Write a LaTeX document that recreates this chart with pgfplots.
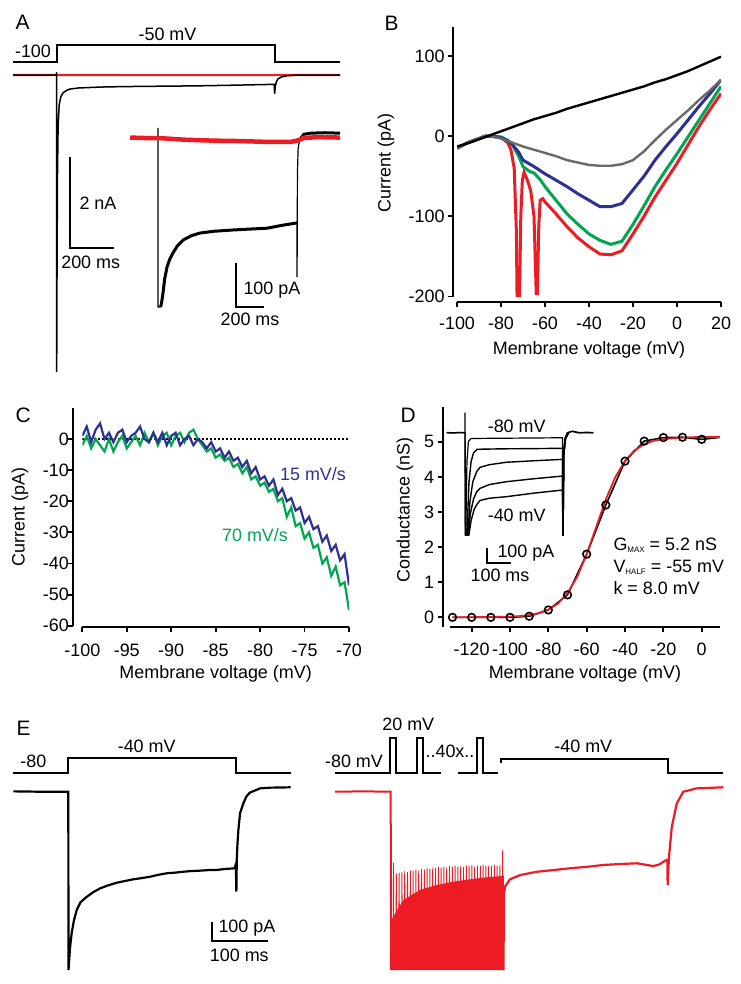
\documentclass[border=0pt]{standalone}
\usepackage{fontspec}
\setmainfont{Liberation Sans}
\usepackage{pgfplots}
\pgfplotsset{compat=1.18}
\definecolor{tred}{RGB}{237,28,36}
\definecolor{tgreen}{RGB}{0,166,81}
\definecolor{tblue}{RGB}{46,49,146}
\definecolor{tgray}{RGB}{105,105,105}
\newcommand{\fs}{\fontsize{18}{21}\selectfont}
\newcommand{\fl}{\fontsize{21}{24}\selectfont}
\pgfplotsset{
  trace/.style={scale only axis, hide axis, clip=false, anchor=south west},
  ephys/.style={scale only axis, anchor=south west, axis lines=left,
    axis line style={-, line width=1.8bp},
    every tick/.style={black, line width=1.8bp},
    tick align=outside, major tick length=5bp,
    tick label style={font=\fs},
    label style={font=\fs},
    /pgf/number format/assume math mode=true},
}
\begin{document}
\begin{tikzpicture}[x=1bp,y=-1bp]
\useasboundingbox (0,0) rectangle (741,984);

% ---------------- A ----------------
\begin{axis}[trace, at={(13bp,-62bp)}, width=327bp, height=17bp,
  xmin=-200, xmax=1300, ymin=-100, ymax=-50]
\addplot[black, line width=2bp] coordinates {(-200,-100)(0,-100)(0,-50)(1000,-50)(1000,-100)(1300,-100)};
\end{axis}

\begin{axis}[trace, at={(13bp,-375.3bp)}, width=327bp, height=309.4bp,
  xmin=-200, xmax=1300, ymin=-6600, ymax=200]
\addplot[tred, line width=2.2bp] coordinates {(-200,0)(300,-2)(700,-3)(1000,-2)(1300,0)};
\addplot[black, line width=1.5bp] coordinates {(-200,0)(-1,0)(0,60)(0.4,-6530)(2,-4200)(4,-2200)(7,-1100)(12,-650)(20,-470)(30,-390)(45,-340)(60,-310)(100,-285)(150,-275)(200,-265)(300,-255)(400,-250)(500,-245)(650,-238)(800,-225)(900,-215)(998,-205)(1000,-420)(1003,-260)(1008,-150)(1015,-90)(1030,-45)(1060,-15)(1100,-3)(1300,0)};
% scale bar 2 nA / 200 ms
\addplot[black, line width=2bp] coordinates {(61.5,-1802)(61.5,-3802)(261.5,-3802)};
\end{axis}

\begin{axis}[trace, at={(130.2bp,-314bp)}, width=209.9bp, height=198bp,
  xmin=-200, xmax=1310, ymin=-400, ymax=50]
\addplot[black, line width=1.2bp] coordinates {(0,23)(0.5,-384)(18,-384)};
\addplot[black, line width=3bp] coordinates {(18,-384)(22,-380)(28,-370)(36,-352)(48,-320)(65,-293)(85,-275)(108,-261)(140,-245)(180,-232)(240,-222)(302,-216)(400,-212)(540,-209)(660,-207)(784,-205)(900,-198)(1000,-193)};
\addplot[black, line width=1.2bp] coordinates {(1000,-193)(1000.5,-316)(1003,-80)(1008,-25)(1020,0)(1040,8)};
\addplot[black, line width=3bp] coordinates {(1040,8)(1100,11)(1200,12)(1310,11)};
\addplot[tred, line width=4.5bp] coordinates {(-200,1)(-100,0)(0,0)(100,-2)(200,-4)(400,-6)(600,-7)(800,-9)(950,-9)(1000,-6)(1050,0)(1150,2)(1310,1)};
% scale bar 100 pA / 200 ms
\addplot[black, line width=2bp] coordinates {(561,-284)(561,-384)(761,-384)};
\end{axis}

% ---------------- B ----------------
\begin{axis}[ephys, at={(457bp,-296.5bp)}, width=264bp, height=269.5bp,
  xmin=-100, xmax=20, ymin=-200, ymax=136,
  axis x line shift=5.5bp, axis y line shift=4bp,
  xtick={-100,-80,...,20}, ytick={-200,-100,0,100},
  xticklabel style={yshift=-6bp},
  xlabel={Membrane voltage (mV)}, ylabel={Current (pA)},
  xlabel style={at={(axis description cs:0.5,-0.1985)}, anchor=center},
  ylabel style={at={(axis description cs:-0.269,0.495)}, anchor=center}]
\addplot[tred, line width=3bp] coordinates {(-100,-15)(-95,-8)(-90,-3)(-87,0)(-84,0)(-80,-2)(-77,-8)(-75.5,-17)(-74,-40)(-73,-120)(-72.5,-260)(-72,-260)(-71.6,-200)(-71,-100)(-70.3,-55)(-69.5,-45)(-68,-55)(-66.5,-68)(-65,-100)(-64,-196)(-63.5,-196)(-62.8,-110)(-62.2,-80)(-61,-78)(-60,-82)(-55,-97)(-50,-113)(-45,-127)(-40,-138)(-35,-147)(-30,-148)(-25,-143)(-20,-122)(-15,-100)(-10,-76)(-5,-55)(0,-34)(5,-11)(10,12)(15,33)(20,53)};
\addplot[tgreen, line width=3bp] coordinates {(-100,-15)(-95,-8)(-90,-3)(-87,0)(-85,0)(-80,-1)(-77,-5)(-75,-10)(-72,-25)(-70,-38)(-67,-44)(-65,-46)(-62,-55)(-60,-63)(-55,-80)(-50,-97)(-45,-110)(-40,-122)(-35,-130)(-30,-135)(-25,-131)(-20,-110)(-15,-87)(-10,-63)(-5,-42)(0,-22)(5,-1)(10,20)(15,41)(20,62)};
\addplot[tblue, line width=3bp] coordinates {(-100,-15)(-95,-8)(-90,-3)(-87,0)(-85,0)(-80,-2)(-77,-6)(-75,-10)(-72,-20)(-70,-30)(-65,-38)(-60,-47)(-55,-55)(-50,-63)(-45,-72)(-40,-80)(-35,-88)(-30,-88)(-25,-84)(-20,-67)(-15,-50)(-10,-30)(-5,-13)(0,3)(5,20)(10,37)(15,53)(20,70)};
\addplot[tgray, line width=2.4bp] coordinates {(-100,-15)(-95,-8)(-90,-3)(-87,0)(-85,0)(-80,-3)(-75,-8)(-70,-13)(-65,-17)(-60,-21)(-55,-25)(-50,-30)(-45,-33)(-40,-36)(-35,-37)(-30,-37)(-25,-35)(-20,-30)(-15,-19)(-10,-5)(-5,8)(0,20)(5,32)(10,45)(15,57)(20,70)};
\addplot[black, line width=2.4bp] coordinates {(-100,-13)(-95,-9)(-90,-4)(-85,1)(-80,6)(-75,11)(-70,16)(-65,21)(-60,25)(-55,29)(-50,34)(-45,38)(-40,42)(-35,46)(-30,50)(-25,54)(-20,58)(-15,62)(-10,67)(-5,71)(0,76)(5,81)(10,87)(15,93)(20,99)};
\end{axis}

% ---------------- C ----------------
\begin{axis}[ephys, at={(82.3bp,-625.7bp)}, width=266.7bp, height=217.8bp,
  xmin=-100, xmax=-70, ymin=-60, ymax=10,
  axis x line shift=1.6bp, axis y line shift=9bp,
  xtick={-100,-95,...,-70}, ytick={-60,-50,...,0},
  xticklabel style={yshift=-8bp}, yticklabel style={xshift=4bp},
  xlabel={Membrane voltage (mV)}, ylabel={Current (pA)},
  xlabel style={at={(axis description cs:0.5,-0.2218)}, anchor=center},
  ylabel style={at={(axis description cs:-0.2336,0.5)}, anchor=center}]
\addplot[black, line width=1.6bp, dash pattern=on 1.5bp off 2.5bp] coordinates {(-100,0)(-70,0)};
\addplot[tgreen, line width=2.2bp] coordinates {(-100,-2)(-99.5,1)(-99,-3)(-98.5,0)(-98,-2)(-97.5,-4)(-97,0)(-96.5,-4)(-96,-1)(-95.5,1)(-95,-3)(-94.5,-1)(-94,1)(-93.5,-2)(-93,2)(-92.5,-1)(-92,2)(-91.5,-2)(-91,1)(-90.5,2)(-90,-2)(-89.5,1)(-89,2)(-88.5,-1)(-88,2)(-87.5,3)(-87,0)(-86.5,-2)(-86,-4)(-85.5,-3)(-85,-6)(-84.5,-5)(-84,-7)(-83.5,-6)(-83,-9)(-82.5,-8)(-82,-11)(-81.5,-9)(-81,-13)(-80.5,-12)(-80,-15)(-79.5,-14)(-79,-17)(-78.5,-16)(-78,-20)(-77.5,-19)(-77,-25)(-76.5,-22)(-76,-28)(-75.5,-27)(-75,-32)(-74.5,-30)(-74,-35)(-73.5,-34)(-73,-40)(-72.5,-38)(-72,-44)(-71.5,-41)(-71,-47)(-70.5,-46)(-70,-55)};
\addplot[tblue, line width=2.2bp] coordinates {(-100,1)(-99.5,4)(-99,-1)(-98.5,3)(-98,5)(-97.5,0)(-97,2)(-96.5,-1)(-96,2)(-95.5,3)(-95,-1)(-94.5,1)(-94,2)(-93.5,4)(-93,0)(-92.5,-1)(-92,2)(-91.5,-1)(-91,2)(-90.5,-2)(-90,1)(-89.5,2)(-89,-2)(-88.5,0)(-88,1)(-87.5,-2)(-87,0)(-86.5,-1)(-86,-3)(-85.5,-1)(-85,-4)(-84.5,-3)(-84,-6)(-83.5,-4)(-83,-7)(-82.5,-6)(-82,-9)(-81.5,-7)(-81,-11)(-80.5,-9)(-80,-13)(-79.5,-12)(-79,-15)(-78.5,-13)(-78,-18)(-77.5,-16)(-77,-20)(-76.5,-19)(-76,-23)(-75.5,-22)(-75,-27)(-74.5,-25)(-74,-29)(-73.5,-28)(-73,-33)(-72.5,-31)(-72,-36)(-71.5,-34)(-71,-39)(-70.5,-37)(-70,-47)};
\end{axis}

% ---------------- D ----------------
\begin{axis}[ephys, at={(450bp,-626.8bp)}, width=269.9bp, height=220.1bp,
  xmin=-131.3, xmax=9.5, ymin=-0.27, ymax=6,
  axis y line shift=7.3bp,
  xtick={-120,-100,...,0}, ytick={0,1,...,5},
  xticklabel style={yshift=-8bp},
  xlabel={Membrane voltage (mV)}, ylabel={Conductance (nS)},
  xlabel style={at={(axis description cs:0.5,-0.2144)}, anchor=center},
  ylabel style={at={(axis description cs:-0.1667,0.5307)}, anchor=center}]
\addplot[black, line width=1.6bp] coordinates {(-130,0)(-120,0)(-110,0)(-100,0)(-90,0.03)(-80,0.21)(-70,0.64)(-60,1.8)(-50,3.2)(-40,4.45)(-30,5.02)(-20,5.12)(-10,5.13)(0,5.07)(10,5.13)};
\addplot[tred, line width=1.8bp] coordinates {(-130,0)(-110,0.01)(-100,0.02)(-95,0.035)(-90,0.065)(-85,0.12)(-80,0.22)(-75,0.39)(-70,0.69)(-65,1.15)(-60,1.8)(-55,2.58)(-50,3.36)(-45,4.0)(-40,4.46)(-35,4.76)(-30,4.93)(-25,5.03)(-20,5.08)(-10,5.12)(0,5.14)(10,5.14)};
\addplot[black, only marks, mark=o, mark size=3.8bp, mark options={line width=1.6bp}] coordinates {(-130,0)(-120,0)(-110,0)(-100,0)(-90,0.03)(-80,0.21)(-70,0.64)(-60,1.8)(-50,3.2)(-40,4.45)(-30,5.02)(-20,5.12)(-10,5.13)(0,5.07)(10,5.13)};
\end{axis}

\begin{axis}[trace, at={(446.7bp,-536.4bp)}, width=146.6bp, height=125.3bp,
  xmin=-75, xmax=526, ymin=-720, ymax=150]
\addplot[black, line width=1.2bp] coordinates {(-75,0)(0,0)(0.3,140)(1,-710)(3,-710)(8,-200)(14,-60)(25,-40)(400,-35)(401,-710)(402,-710)(404,-150)(410,-40)(420,0)(440,10)(460,0)(526,0)};
\addplot[black, line width=1.4bp] coordinates {(-75,2)(-50,-2)(-25,2)(0,0)(2,-710)(8,-710)(16,-350)(25,-200)(35,-140)(50,-115)(150,-112)(300,-110)(400,-108)(401,-710)(402,-710)(404,-150)(410,-40)(420,0)(440,10)(470,0)(500,3)(526,0)};
\addplot[black, line width=1.4bp] coordinates {(4,-710)(12,-710)(20,-480)(32,-340)(48,-270)(62,-240)(100,-222)(170,-205)(280,-195)(400,-185)(401,-710)(402,-710)(405,-150)(412,-40)(425,0)};
\addplot[black, line width=1.4bp] coordinates {(5,-710)(14,-710)(22,-560)(35,-460)(48,-410)(62,-386)(100,-360)(170,-340)(280,-320)(400,-301)(401,-710)(402,-710)(405,-150)(412,-40)(425,0)};
\addplot[black, line width=1.4bp] coordinates {(6,-710)(16,-710)(25,-610)(38,-530)(50,-495)(62,-470)(100,-455)(170,-444)(280,-420)(400,-398)(401,-710)(402,-710)(405,-150)(412,-40)(425,0)};
% scale bar 100 pA / 100 ms
\addplot[black, line width=2bp] coordinates {(89,-803)(89,-903)(189,-903)};
\end{axis}

% ---------------- E ----------------
\begin{axis}[trace, at={(13.3bp,-772.7bp)}, width=277.4bp, height=14.4bp,
  xmin=-98.2, xmax=397, ymin=-80, ymax=-40]
\addplot[black, line width=2bp] coordinates {(-98.2,-80)(0,-80)(0,-40)(300,-40)(300,-80)(397,-80)};
\end{axis}

\begin{axis}[trace, at={(13.3bp,-975.7bp)}, width=277.4bp, height=193.2bp,
  xmin=-98.2, xmax=397, ymin=-1000, ymax=50]
\addplot[black, line width=2.2bp] coordinates {(-98.2,2)(-50,0)(0,0)(0.3,-969)(3,-850)(6,-768)(10,-700)(15,-643)(22,-600)(33,-571)(45,-545)(57,-525)(70,-510)(86,-495)(100,-486)(116,-476)(130,-470)(146,-462)(160,-452)(176,-443)(190,-440)(205,-435)(220,-431)(235,-429)(250,-426)(265,-425)(280,-420)(297,-416)(299,-395)(300,-543)(300.7,-371)(302,-280)(303.6,-208)(306.6,-117)(312.5,-63)(318,-25)(324,-5)(332,5)(342,18)(360,22)(397,24)};
% scale bar 100 pA / 100 ms
\addplot[black, line width=2bp] coordinates {(257,-710)(257,-810)(357,-810)};
\end{axis}

\begin{axis}[trace, at={(335bp,-772.7bp)}, width=388.3bp, height=34.4bp,
  xmin=-99.5, xmax=594, ymin=-80, ymax=20]
\addplot[black, line width=2bp] coordinates {(-99.5,-80)(-1.2,-80)(-1.2,20)(9.5,20)(9.5,-80)(47.5,-80)(47.5,20)(58.2,20)(58.2,-80)(89.8,-80)};
\addplot[black, line width=2bp] coordinates {(120.7,-80)(154.6,-80)(154.6,20)(164.3,20)(164.3,-80)(191,-80)};
\addplot[black, line width=2bp] coordinates {(196.4,-53)(196.4,-40)(494.6,-40)(494.6,-80)(594,-80)};
\end{axis}

\begin{axis}[trace, at={(335bp,-975.7bp)}, width=388.3bp, height=193.2bp,
  xmin=-99.5, xmax=594, ymin=-1000, ymax=50]
\addplot[tred, line width=2bp] coordinates {(-99.5,0)(-50,2)(0,0)(0.3,-969)};
\addplot[tred, fill=tred, draw=none] coordinates {(0,-969)(0.5,-700)(8,-661)(22.5,-589)(52,-534)(82,-507)(112,-489)(142,-476)(172,-465)(199,-458)(202,-458)(202,-969)(0,-969)};
\addplot[tred, line width=0.9bp] coordinates {(4.5,-700)(5,-385)(5.5,-700)(9.5,-700)(10,-445)(10.5,-700)(14.5,-700)(15,-440)(15.5,-700)(19.5,-700)(20,-438)(20.5,-700)(24.5,-700)(25,-432)(25.5,-700)(29.5,-700)(30,-436)(30.5,-700)(34.5,-700)(35,-428)(35.5,-700)(39.5,-700)(40,-430)(40.5,-700)(44.5,-700)(45,-424)(45.5,-700)(49.5,-700)(50,-427)(50.5,-700)(54.5,-700)(55,-420)(55.5,-700)(59.5,-700)(60,-423)(60.5,-700)(64.5,-700)(65,-416)(65.5,-700)(69.5,-700)(70,-419)(70.5,-700)(74.5,-700)(75,-412)(75.5,-700)(79.5,-700)(80,-415)(80.5,-700)(84.5,-700)(85,-410)(85.5,-700)(89.5,-700)(90,-413)(90.5,-700)(94.5,-700)(95,-408)(95.5,-700)(99.5,-700)(100,-411)(100.5,-700)(104.5,-700)(105,-405)(105.5,-700)(109.5,-700)(110,-409)(110.5,-700)(114.5,-700)(115,-402)(115.5,-700)(119.5,-700)(120,-407)(120.5,-700)(124.5,-700)(125,-403)(125.5,-700)(129.5,-700)(130,-408)(130.5,-700)(134.5,-700)(135,-401)(135.5,-700)(139.5,-700)(140,-405)(140.5,-700)(144.5,-700)(145,-400)(145.5,-700)(149.5,-700)(150,-406)(150.5,-700)(154.5,-700)(155,-402)(155.5,-700)(159.5,-700)(160,-404)(160.5,-700)(164.5,-700)(165,-399)(165.5,-700)(169.5,-700)(170,-405)(170.5,-700)(174.5,-700)(175,-401)(175.5,-700)(179.5,-700)(180,-403)(180.5,-700)(184.5,-700)(185,-398)(185.5,-700)(189.5,-700)(190,-404)(190.5,-700)(194.5,-700)(195,-400)(195.5,-700)(199.5,-700)(200,-318)(200.5,-700)(201.5,-969)};
\addplot[tred, line width=2.2bp] coordinates {(201.5,-969)(202,-560)(204,-516)(213,-476)(231,-453)(261,-435)(290,-426)(320,-416)(351,-408)(380,-398)(409,-393)(440,-389)(469,-404)(480,-395)(490,-375)(494,-370)(494.6,-507)(497,-353)(502,-190)(511,-63)(522.5,0)(546,18)(594,24)};
\end{axis}

% ---------------- text ----------------
\node[font=\fl, anchor=west] at (12,22) {A};
\node[font=\fs] at (33,51) {-100};
\node[font=\fs] at (167.5,34) {-50 mV};
\node[font=\fs, anchor=west] at (76,203) {2 nA};
\node[font=\fs] at (90.7,262) {200 ms};
\node[font=\fs, anchor=west] at (240,290) {100 pA};
\node[font=\fs] at (250,319.5) {200 ms};
\node[font=\fl, anchor=west] at (381,23) {B};
\node[font=\fl, anchor=west] at (12,415) {C};
\node[font=\fs, text=tblue] at (313,474.3) {15 mV/s};
\node[font=\fs, text=tgreen] at (255,535) {70 mV/s};
\node[font=\fl, anchor=west] at (397,415) {D};
\node[font=\fs] at (516.7,426.7) {-80 mV};
\node[font=\fs] at (516.7,515) {-40 mV};
\node[font=\fs, anchor=west] at (494,553.3) {100 pA};
\node[font=\fs] at (500,575) {100 ms};
\node[font=\fs, anchor=west] at (610,545.7) {G\raisebox{-2bp}{\fontsize{8}{8}\selectfont MAX} = 5.2 nS};
\node[font=\fs, anchor=west] at (610,567.3) {V\raisebox{-2bp}{\fontsize{8}{8}\selectfont HALF} = -55 mV};
\node[font=\fs, anchor=west] at (610,588.3) {k = 8.0 mV};
\node[font=\fl, anchor=west] at (13,728.3) {E};
\node[font=\fs] at (33.3,761.7) {-80};
\node[font=\fs] at (146.7,746.7) {-40 mV};
\node[font=\fs, anchor=west] at (215,928.3) {100 pA};
\node[font=\fs] at (239.3,955) {100 ms};
\node[font=\fs] at (354,761.7) {-80 mV};
\node[font=\fs] at (408.3,724) {20 mV};
\node[font=\fs] at (450,751.7) {..40x..};
\node[font=\fs] at (583.3,746.7) {-40 mV};
\end{tikzpicture}
\end{document}
